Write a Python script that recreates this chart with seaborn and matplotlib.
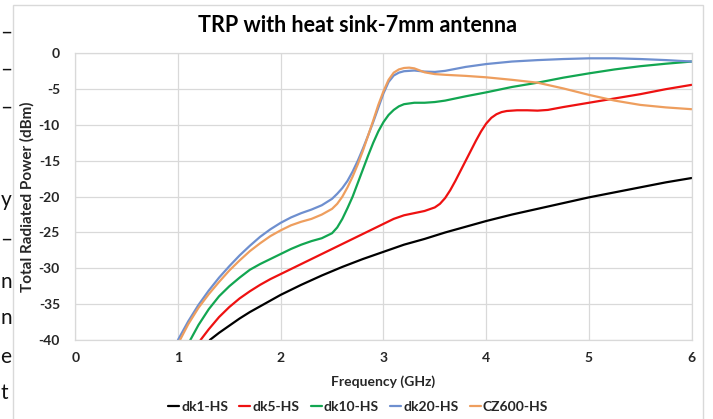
import numpy as np
import pandas as pd
import matplotlib
matplotlib.use("Agg")
import matplotlib.pyplot as plt
import seaborn as sns
from matplotlib.lines import Line2D
from matplotlib.patches import Rectangle

# ---------------- data ----------------
series_names = ["dk1-HS", "dk5-HS", "dk10-HS", "dk20-HS", "CZ600-HS"]

dk1_freq = [1.31, 1.4, 1.5, 1.6, 1.7, 1.8, 1.9, 2.0, 2.2, 2.4, 2.6, 2.8, 3.0, 3.2, 3.4,
            3.6, 3.8, 4.0, 4.25, 4.5, 4.75, 5.0, 5.25, 5.5, 5.75, 6.0]
dk1_trp = [-40.0, -39.0, -38.0, -37.0, -36.1, -35.3, -34.5, -33.7, -32.3, -31.0, -29.8,
           -28.7, -27.7, -26.7, -25.9, -25.0, -24.2, -23.4, -22.5, -21.7, -20.9, -20.1,
           -19.4, -18.7, -18.0, -17.4]

dk5_freq = [1.22, 1.3, 1.4, 1.5, 1.6, 1.7, 1.8, 1.9, 2.0, 2.2, 2.4, 2.6, 2.8, 3.0, 3.1,
            3.2, 3.3, 3.4, 3.5, 3.55, 3.6, 3.65, 3.7, 3.75, 3.8, 3.85, 3.9, 3.95, 4.0,
            4.05, 4.1, 4.15, 4.2, 4.3, 4.4, 4.5, 4.6, 4.75, 5.0, 5.25, 5.5, 5.75, 6.0]
dk5_trp = [-40, -38.5, -36.8, -35.4, -34.2, -33.2, -32.3, -31.5, -30.8, -29.4, -28.0,
           -26.6, -25.2, -23.8, -23.1, -22.6, -22.3, -22.0, -21.5, -21.0, -20.2, -19.1,
           -17.8, -16.4, -15.0, -13.6, -12.2, -10.9, -9.8, -9.0, -8.5, -8.2, -8.05,
           -7.95, -7.95, -8.0, -7.9, -7.5, -6.9, -6.3, -5.7, -5.0, -4.4]

dk10_freq = [1.12, 1.2, 1.3, 1.4, 1.5, 1.6, 1.7, 1.8, 1.9, 2.0, 2.1, 2.2, 2.3, 2.4, 2.5,
             2.55, 2.6, 2.65, 2.7, 2.75, 2.8, 2.85, 2.9, 2.95, 3.0, 3.05, 3.1, 3.15, 3.2,
             3.3, 3.4, 3.5, 3.6, 3.8, 4.0, 4.25, 4.5, 4.75, 5.0, 5.25, 5.5, 5.75, 6.0]
dk10_trp = [-40, -37.9, -35.7, -33.9, -32.5, -31.3, -30.2, -29.4, -28.7, -28.0, -27.3,
            -26.7, -26.2, -25.8, -25.1, -24.3, -23.1, -21.6, -20.0, -18.1, -16.2, -14.3,
            -12.5, -10.9, -9.6, -8.6, -7.9, -7.4, -7.1, -6.9, -6.9, -6.8, -6.6, -6.0,
            -5.45, -4.7, -4.1, -3.4, -2.8, -2.25, -1.8, -1.45, -1.15]

dk20_freq = [1.0, 1.1, 1.2, 1.3, 1.4, 1.5, 1.6, 1.7, 1.8, 1.9, 2.0, 2.1, 2.2, 2.3, 2.4,
             2.5, 2.55, 2.6, 2.65, 2.7, 2.75, 2.8, 2.85, 2.9, 2.95, 3.0, 3.05, 3.1, 3.15,
             3.2, 3.3, 3.4, 3.5, 3.6, 3.8, 4.0, 4.25, 4.5, 4.75, 5.0, 5.25, 5.5, 5.75, 6.0]
dk20_trp = [-40, -37.4, -35.1, -33.1, -31.3, -29.7, -28.2, -26.85, -25.6, -24.55, -23.65,
            -22.9, -22.3, -21.8, -21.2, -20.3, -19.6, -18.8, -17.8, -16.5, -15.0, -13.3,
            -11.5, -9.6, -7.6, -5.6, -4.0, -3.1, -2.7, -2.5, -2.4, -2.55, -2.6, -2.45,
            -1.9, -1.5, -1.15, -0.95, -0.8, -0.7, -0.7, -0.8, -0.95, -1.15]

cz600_freq = [1.02, 1.1, 1.2, 1.3, 1.4, 1.5, 1.6, 1.7, 1.8, 1.9, 2.0, 2.1, 2.2, 2.3, 2.4,
              2.5, 2.55, 2.6, 2.65, 2.7, 2.75, 2.8, 2.85, 2.9, 2.95, 3.0, 3.05, 3.1, 3.15,
              3.2, 3.25, 3.3, 3.4, 3.5, 3.6, 3.8, 4.0, 4.25, 4.5, 4.75, 5.0, 5.25, 5.5,
              5.75, 6.0]
cz600_trp = [-40, -37.8, -35.5, -33.6, -31.9, -30.3, -28.9, -27.6, -26.5, -25.5, -24.7,
             -24.0, -23.5, -23.1, -22.5, -21.7, -21.0, -20.0, -18.7, -17.2, -15.5, -13.6,
             -11.5, -9.4, -7.2, -5.3, -3.7, -2.7, -2.25, -2.05, -2.0, -2.1, -2.65, -2.9,
             -3.0, -3.15, -3.35, -3.7, -4.1, -4.9, -5.8, -6.6, -7.2, -7.55, -7.8]

x_ticks = [0, 1, 2, 3, 4, 5, 6]
y_ticks = [-40, -35, -30, -25, -20, -15, -10, -5, 0]

title_text = "TRP with heat sink-7mm antenna"
x_label = "Frequency (GHz)"
y_label = "Total Radiated Power (dBm)"

# text fragments of the surrounding page at the left edge
frag_text = ["–", "–", "–", "y", "–", "n", "n", "e", "t"]

# ---------------- long-form table ----------------
freqs = [dk1_freq, dk5_freq, dk10_freq, dk20_freq, cz600_freq]
trps = [dk1_trp, dk5_trp, dk10_trp, dk20_trp, cz600_trp]
df = pd.concat(
    [pd.DataFrame({"freq": f, "trp": t, "series": n})
     for f, t, n in zip(freqs, trps, series_names)],
    ignore_index=True,
)

colors = ["#000000", "#EE1111", "#12A651", "#6E8FCF", "#EE9E5E"]
palette = dict(zip(series_names, colors))

# ---------------- figure ----------------
sns.set_theme(style="white")
plt.rcParams["font.family"] = ["Lato", "DejaVu Sans"]

W, H = 713, 419
fig = plt.figure(figsize=(W / 100, H / 100), dpi=100)
ax = fig.add_axes([75.2 / W, 1 - 340 / H, (691.7 - 75.2) / W, (340 - 53.3) / H])

# chart border
fig.patches.append(Rectangle((13 / W, -0.02), (703 - 13) / W, 1 - 5 / H + 0.02,
                             transform=fig.transFigure, fill=False,
                             edgecolor="#D9D9D9", linewidth=1.0))

sns.lineplot(data=df, x="freq", y="trp", hue="series", hue_order=series_names,
             palette=palette, estimator=None, sort=True, linewidth=1.6,
             legend=False, ax=ax)

ax.set_xlim(0, 6)
ax.set_ylim(-40, 0)
ax.set_xticks(x_ticks)
ax.set_yticks(y_ticks)
ax.set_xticklabels([str(v) for v in x_ticks])
ax.set_yticklabels([str(v) for v in y_ticks])
ax.grid(True, color="#D9D9D9", linewidth=0.9)
ax.set_axisbelow(True)
for s in ax.spines.values():
    s.set_color("#D9D9D9")
    s.set_linewidth(0.9)
ax.tick_params(axis="y", length=0, labelsize=10, labelcolor="#262626", pad=11)
ax.tick_params(axis="x", length=0, labelsize=10, labelcolor="#262626", pad=9)
for lab in ax.get_xticklabels() + ax.get_yticklabels():
    lab.set_fontweight("bold")

ax.set_xlabel(x_label, fontsize=10, fontweight="bold", color="#262626", labelpad=8)
ax.set_ylabel(y_label, fontsize=11, fontweight="bold", color="#262626", labelpad=3)

fig.text(357 / W, 1 - 25 / H, title_text, ha="center", va="center",
         fontsize=15.5, fontweight="bold", color="#000000")

handles = [Line2D([0], [0], color=c, linewidth=1.6) for c in colors]
fig.legend(handles, series_names, loc="center", bbox_to_anchor=(358 / W, 1 - 407 / H),
           ncol=5, frameon=False, handlelength=0.8, handletextpad=0.15,
           columnspacing=0.8, prop={"weight": "bold", "size": 10})

frag_y = [33, 70, 108, 200, 240, 282, 318, 357, 393]
for yy, ss in zip(frag_y, frag_text):
    fig.text(0.5 / W, 1 - yy / H, ss, ha="left", va="center", fontsize=15,
             color="#111111", family=["Lato", "DejaVu Sans"])

fig.savefig("out.png", dpi=100)
